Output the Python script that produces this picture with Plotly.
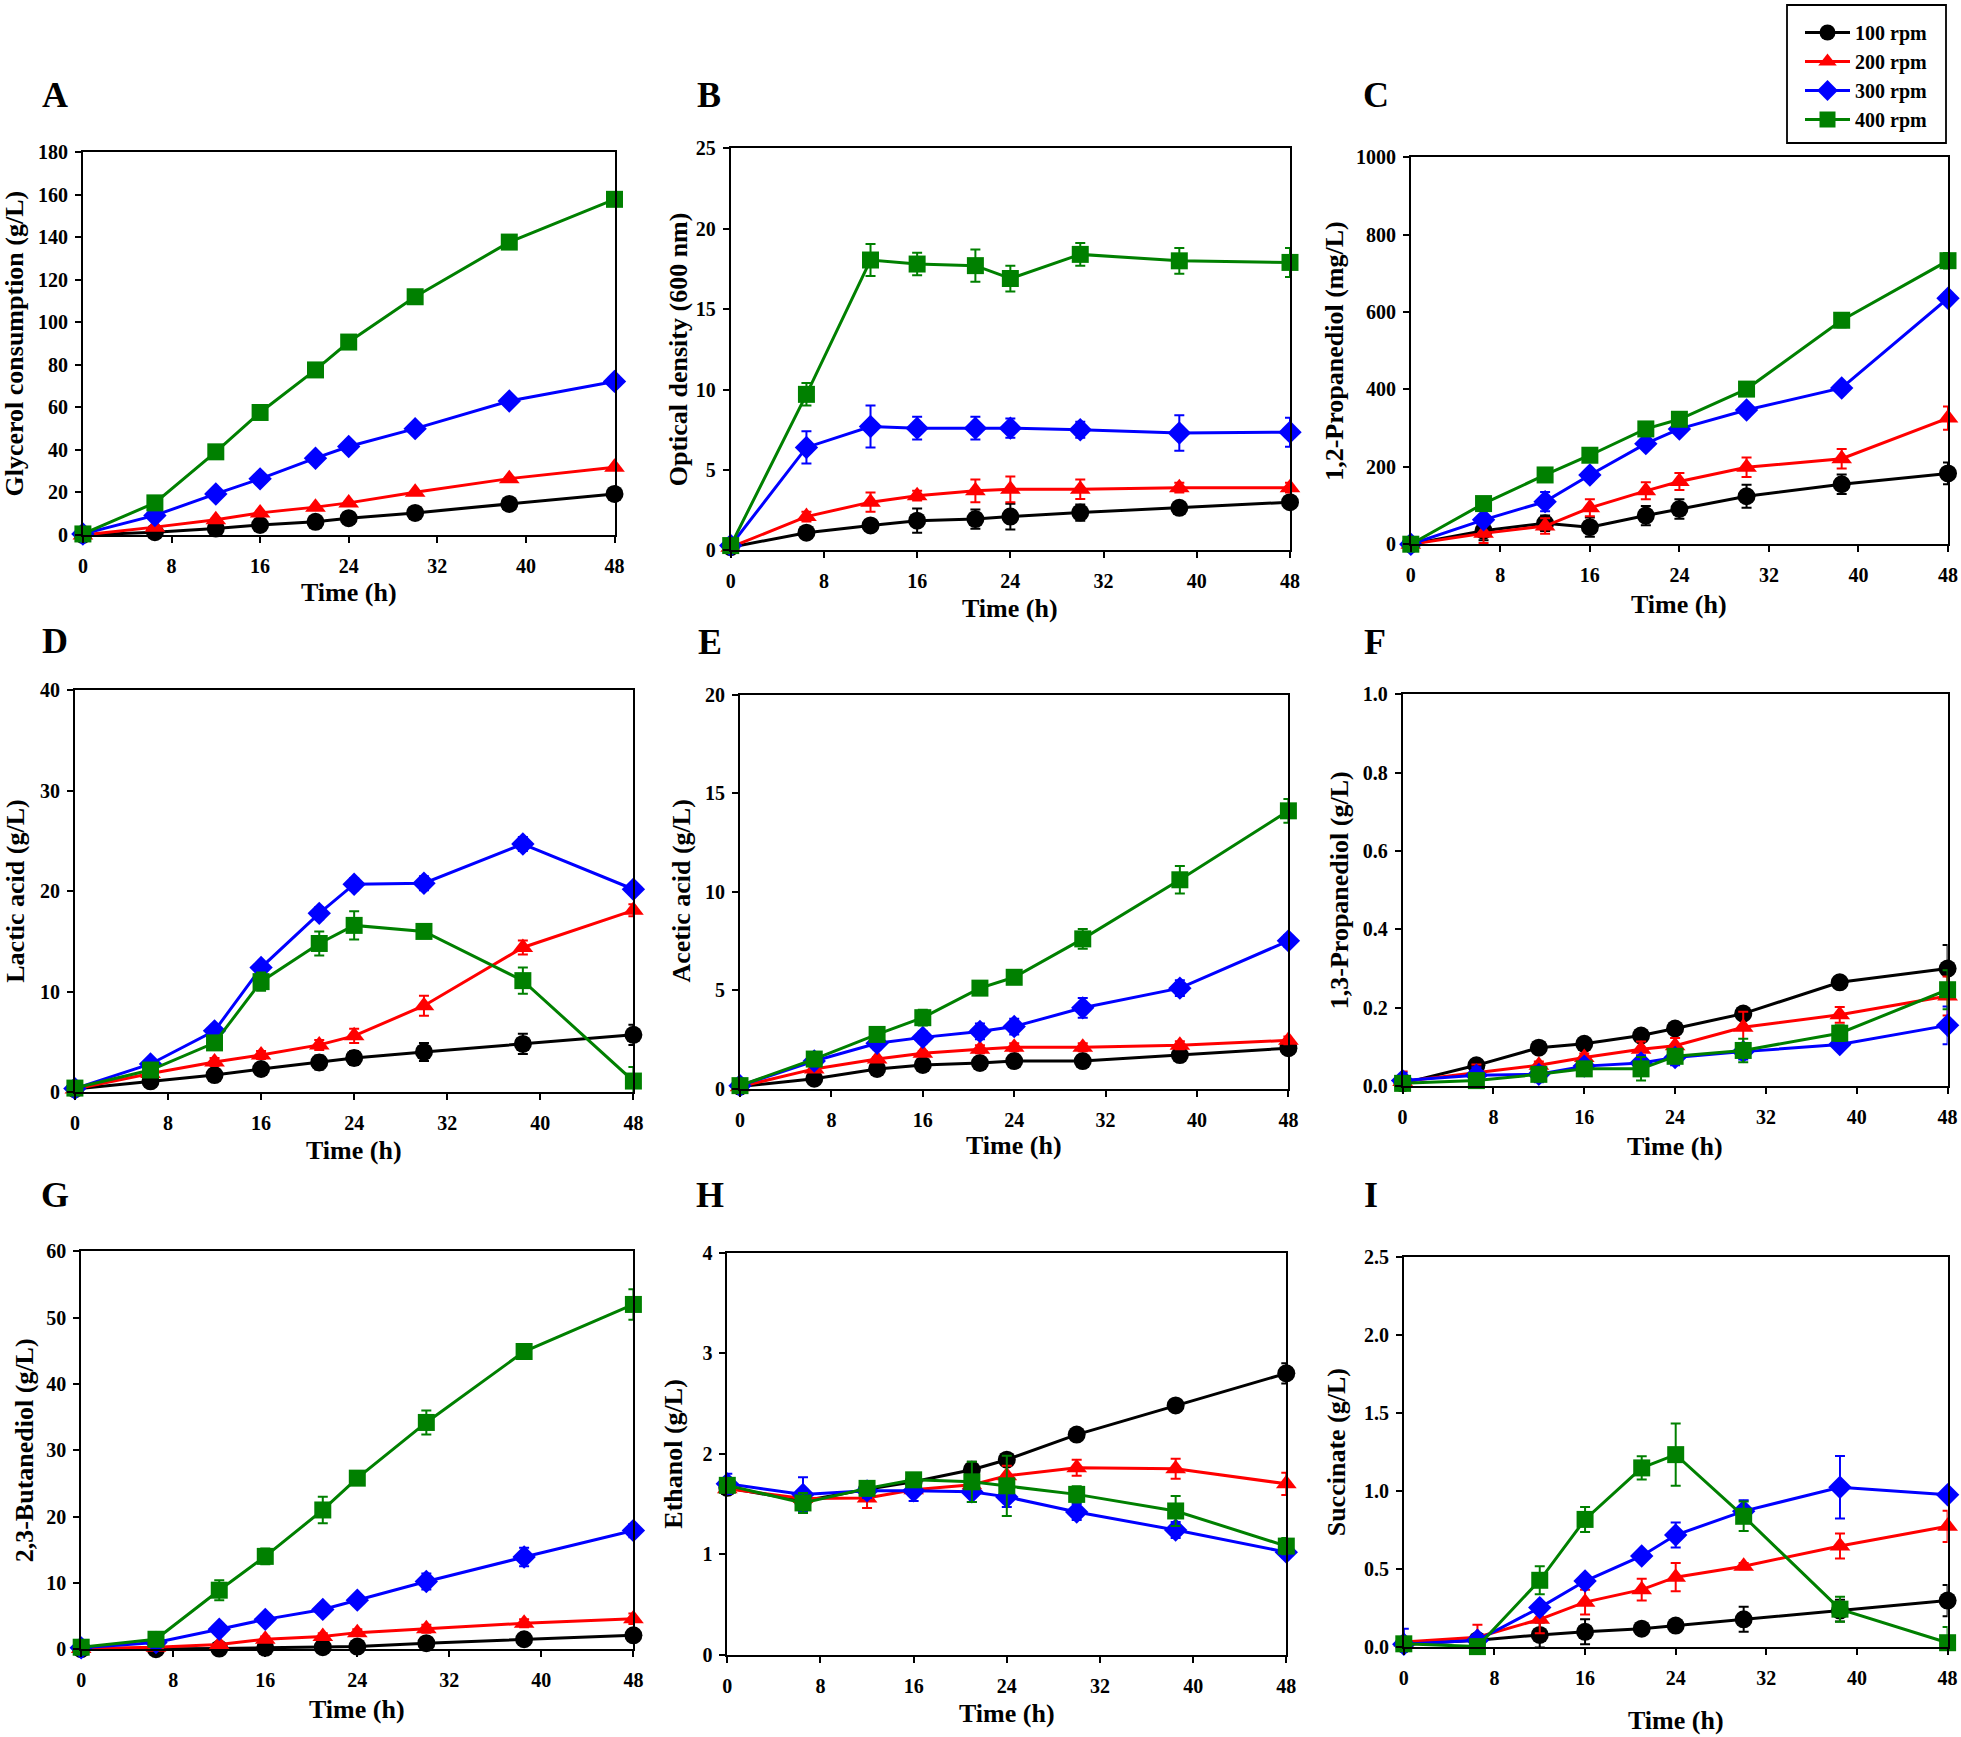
import plotly.graph_objects as go

# ---------------- data ----------------
time_h = [0, 6.5, 12, 16, 21, 24, 30, 38.5, 48]
series_names = ["100 rpm", "200 rpm", "300 rpm", "400 rpm"]

# A: Glycerol consumption (g/L)
a100 = [0, 1.3, 3.0, 4.7, 6.2, 7.9, 10.4, 14.6, 19.3]
a200 = [0, 3.7, 7.2, 10.4, 13.1, 15.1, 20.1, 26.5, 31.9]
a300 = [0.5, 9.2, 19.3, 26.4, 36.1, 41.6, 50.0, 63.0, 72.2]
a400 = [0.5, 15.1, 39.1, 57.6, 77.6, 90.7, 112.0, 137.7, 157.8]
a100_err = [0, 0.5, 0.5, 0.5, 0.5, 0.5, 0.5, 0.5, 0.5]
a200_err = [0, 0.5, 0.5, 0.5, 0.5, 0.5, 0.5, 0.5, 0.5]
a300_err = [0, 0.5, 0.5, 0.5, 0.5, 0.5, 0.5, 0.5, 0.5]
a400_err = [0, 0.5, 0.5, 0.5, 0.5, 0.5, 0.5, 0.5, 0.5]

# B: Optical density (600 nm)
b100 = [0.2, 1.1, 1.55, 1.85, 1.95, 2.1, 2.35, 2.65, 3.0]
b200 = [0.2, 2.1, 3.0, 3.4, 3.7, 3.8, 3.8, 3.9, 3.9]
b300 = [0.3, 6.4, 7.7, 7.6, 7.6, 7.6, 7.5, 7.3, 7.35]
b400 = [0.3, 9.7, 18.05, 17.8, 17.7, 16.9, 18.4, 18.0, 17.9]
b100_err = [0, 0.2, 0.3, 0.75, 0.6, 0.8, 0.5, 0.3, 0.3]
b200_err = [0, 0.3, 0.6, 0.3, 0.7, 0.8, 0.6, 0.3, 0.3]
b300_err = [0, 1.0, 1.3, 0.7, 0.7, 0.6, 0.5, 1.1, 0.9]
b400_err = [0, 0.7, 1.0, 0.7, 1.0, 0.8, 0.7, 0.8, 0.9]

# C: 1,2-Propanediol (mg/L)
c100 = [0, 35, 54, 44, 74, 91, 124, 155, 183]
c200 = [0, 28, 47, 94, 138, 162, 199, 221, 326]
c300 = [0, 63, 110, 179, 260, 298, 347, 404, 636]
c400 = [0, 105, 179, 230, 298, 323, 401, 579, 733]
c100_err = [0, 25, 20, 25, 25, 25, 30, 25, 28]
c200_err = [0, 25, 20, 22, 22, 22, 25, 25, 30]
c300_err = [0, 10, 25, 12, 10, 10, 10, 10, 15]
c400_err = [0, 15, 15, 15, 15, 15, 18, 18, 20]

# D: Lactic acid (g/L)
d100 = [0.3, 1.07, 1.7, 2.3, 2.95, 3.4, 4.0, 4.8, 5.7]
d200 = [0.3, 1.85, 3.0, 3.7, 4.7, 5.6, 8.6, 14.4, 18.1]
d300 = [0.35, 2.8, 6.1, 12.4, 17.8, 20.7, 20.8, 24.7, 20.2]
d400 = [0.4, 2.2, 4.9, 11.0, 14.8, 16.6, 16.0, 11.1, 1.1]
d100_err = [0, 0.3, 0.5, 0.5, 0.7, 0.7, 0.9, 1.0, 1.0]
d200_err = [0, 0.3, 0.4, 0.4, 0.5, 0.7, 1.0, 0.7, 0.6]
d300_err = [0, 0.3, 0.4, 0.5, 0.6, 0.6, 0.7, 0.7, 0.5]
d400_err = [0, 0.3, 0.4, 0.9, 1.2, 1.4, 0.5, 1.3, 1.4]

# E: Acetic acid (g/L)
e100 = [0.1, 0.5, 1.0, 1.2, 1.3, 1.4, 1.4, 1.7, 2.05]
e200 = [0.1, 1.0, 1.5, 1.8, 2.0, 2.1, 2.1, 2.2, 2.45]
e300 = [0.15, 1.4, 2.3, 2.6, 2.9, 3.15, 4.1, 5.1, 7.5]
e400 = [0.15, 1.5, 2.75, 3.6, 5.1, 5.65, 7.6, 10.6, 14.1]
e100_err = [0, 0.1, 0.1, 0.1, 0.1, 0.1, 0.1, 0.1, 0.1]
e200_err = [0, 0.1, 0.1, 0.1, 0.2, 0.2, 0.2, 0.2, 0.2]
e300_err = [0, 0.2, 0.3, 0.3, 0.4, 0.4, 0.5, 0.4, 0.3]
e400_err = [0, 0.2, 0.3, 0.4, 0.3, 0.3, 0.5, 0.7, 0.6]

# F: 1,3-Propanediol (g/L)
f100 = [0.007, 0.053, 0.098, 0.108, 0.129, 0.147, 0.185, 0.265, 0.30]
f200 = [0.012, 0.035, 0.053, 0.073, 0.094, 0.103, 0.15, 0.182, 0.23]
f300 = [0.014, 0.028, 0.03, 0.051, 0.059, 0.073, 0.088, 0.106, 0.155]
f400 = [0.007, 0.014, 0.03, 0.044, 0.044, 0.076, 0.091, 0.135, 0.246]
f100_err = [0.01, 0.01, 0.01, 0.01, 0.01, 0.01, 0.01, 0.01, 0.06]
f200_err = [0.025, 0.02, 0.01, 0.01, 0.02, 0.02, 0.04, 0.02, 0.05]
f300_err = [0.02, 0.02, 0.02, 0.01, 0.02, 0.02, 0.02, 0.01, 0.048]
f400_err = [0.01, 0.01, 0.01, 0.01, 0.03, 0.01, 0.03, 0.02, 0.05]

# G: 2,3-Butanediol (g/L)
g100 = [0, 0, 0.1, 0.2, 0.3, 0.4, 0.9, 1.5, 2.1]
g200 = [0.1, 0.3, 0.7, 1.5, 1.9, 2.5, 3.1, 3.9, 4.6]
g300 = [0.2, 1.0, 3.0, 4.5, 6.0, 7.4, 10.2, 13.9, 17.9]
g400 = [0.3, 1.5, 8.9, 14.0, 21.0, 25.8, 34.2, 44.9, 52.0]
g100_err = [0, 0.2, 0.2, 0.2, 0.2, 0.2, 0.3, 0.4, 0.5]
g200_err = [0, 0.2, 0.3, 0.4, 0.5, 0.5, 0.6, 0.6, 0.8]
g300_err = [0, 0.3, 0.5, 0.8, 0.8, 0.6, 1.2, 1.4, 1.0]
g400_err = [0, 0.3, 1.5, 1.2, 2.0, 0.8, 1.8, 0.8, 2.3]

# H: Ethanol (g/L)
h100 = [1.66, 1.53, 1.645, 1.72, 1.84, 1.94, 2.19, 2.48, 2.80]
h200 = [1.65, 1.555, 1.56, 1.64, 1.69, 1.78, 1.86, 1.85, 1.70]
h300 = [1.70, 1.595, 1.63, 1.63, 1.62, 1.57, 1.42, 1.24, 1.02]
h400 = [1.685, 1.51, 1.655, 1.74, 1.72, 1.68, 1.595, 1.43, 1.08]
h100_err = [0.03, 0.03, 0.03, 0.03, 0.08, 0.05, 0.03, 0.03, 0.1]
h200_err = [0.05, 0.05, 0.1, 0.05, 0.05, 0.1, 0.08, 0.1, 0.11]
h300_err = [0.1, 0.17, 0.07, 0.1, 0.1, 0.1, 0.08, 0.08, 0.05]
h400_err = [0.05, 0.1, 0.05, 0.05, 0.2, 0.3, 0.08, 0.15, 0.08]

# I: Succinate (g/L)
i100 = [0.02, 0.046, 0.08, 0.10, 0.12, 0.14, 0.18, 0.236, 0.30]
i200 = [0.035, 0.065, 0.18, 0.29, 0.37, 0.45, 0.52, 0.65, 0.776]
i300 = [0.02, 0.046, 0.255, 0.425, 0.586, 0.72, 0.873, 1.026, 0.978]
i400 = [0.023, 0.005, 0.43, 0.82, 1.15, 1.235, 0.84, 0.245, 0.03]
i100_err = [0.02, 0.02, 0.08, 0.08, 0.02, 0.02, 0.08, 0.07, 0.1]
i200_err = [0.02, 0.08, 0.09, 0.08, 0.07, 0.09, 0.02, 0.08, 0.1]
i300_err = [0.1, 0.02, 0.02, 0.02, 0.02, 0.08, 0.07, 0.2, 0.02]
i400_err = [0.02, 0.02, 0.09, 0.08, 0.075, 0.2, 0.095, 0.08, 0.1]

x_ticks = [0, 8, 16, 24, 32, 40, 48]

panels = [
    dict(letter="A", ylabel="Glycerol consumption (g/L)", ymax=180, dtick=20, fmt="",
         ys=[a100, a200, a300, a400], errs=[a100_err, a200_err, a300_err, a400_err]),
    dict(letter="B", ylabel="Optical density (600 nm)", ymax=25, dtick=5, fmt="",
         ys=[b100, b200, b300, b400], errs=[b100_err, b200_err, b300_err, b400_err]),
    dict(letter="C", ylabel="1,2-Propanediol (mg/L)", ymax=1000, dtick=200, fmt="",
         ys=[c100, c200, c300, c400], errs=[c100_err, c200_err, c300_err, c400_err]),
    dict(letter="D", ylabel="Lactic acid (g/L)", ymax=40, dtick=10, fmt="",
         ys=[d100, d200, d300, d400], errs=[d100_err, d200_err, d300_err, d400_err]),
    dict(letter="E", ylabel="Acetic acid (g/L)", ymax=20, dtick=5, fmt="",
         ys=[e100, e200, e300, e400], errs=[e100_err, e200_err, e300_err, e400_err]),
    dict(letter="F", ylabel="1,3-Propanediol (g/L)", ymax=1.0, dtick=0.2, fmt=".1f",
         ys=[f100, f200, f300, f400], errs=[f100_err, f200_err, f300_err, f400_err]),
    dict(letter="G", ylabel="2,3-Butanediol (g/L)", ymax=60, dtick=10, fmt="",
         ys=[g100, g200, g300, g400], errs=[g100_err, g200_err, g300_err, g400_err]),
    dict(letter="H", ylabel="Ethanol (g/L)", ymax=4, dtick=1, fmt="",
         ys=[h100, h200, h300, h400], errs=[h100_err, h200_err, h300_err, h400_err]),
    dict(letter="I", ylabel="Succinate (g/L)", ymax=2.5, dtick=0.5, fmt=".1f",
         ys=[i100, i200, i300, i400], errs=[i100_err, i200_err, i300_err, i400_err]),
]

# ---------------- layout (pixel geometry) ----------------
W, H = 1961, 1737
# plot-area boxes: left, right, top, bottom in px
boxes = [
    (82.9, 614.5, 152.1, 535.0), (730.7, 1290.0, 148.2, 550.4), (1410.8, 1948.0, 157.4, 544.2),
    (74.9, 633.4, 690.4, 1092.1), (740.0, 1288.4, 694.6, 1088.6), (1402.6, 1947.6, 694.3, 1086.1),
    (81.2, 633.4, 1251.4, 1649.2), (727.3, 1286.3, 1252.8, 1654.6), (1403.8, 1947.6, 1257.2, 1647.4),
]
letter_pos = [(55, 95), (709, 95), (1376, 95), (55, 641), (710, 642), (1375, 642),
              (55, 1195), (710, 1195), (1371, 1195)]
ytitle_x = [15, 678, 1335, 15.5, 682, 1339, 24, 674, 1336]
xtitle_off = [57, 58, 60, 58, 57, 60, 60, 59, 73]

colors = ["#000000", "#ff0000", "#0000ff", "#008000"]
symbols = ["circle", "triangle-up", "diamond", "square"]
msizes = [18, 18, 18, 17]

FONT = "Liberation Serif, Times New Roman, serif"

fig = go.Figure()
annotations = []
layout_axes = {}

for k, p in enumerate(panels):
    L, R, T, B = boxes[k]
    xn = "x" if k == 0 else f"x{k+1}"
    yn = "y" if k == 0 else f"y{k+1}"
    for s in range(4):
        fig.add_trace(go.Scatter(
            x=time_h, y=p["ys"][s], xaxis=xn, yaxis=yn,
            mode="lines+markers", name=series_names[s],
            legendgroup=series_names[s], showlegend=(k == 0),
            line=dict(color=colors[s], width=3),
            marker=dict(symbol=symbols[s], size=msizes[s], color=colors[s], line=dict(width=0)),
            error_y=dict(type="data", array=p["errs"][s], visible=True,
                         color=colors[s], thickness=2, width=5),
            cliponaxis=False,
        ))
    xkey = "xaxis" if k == 0 else f"xaxis{k+1}"
    ykey = "yaxis" if k == 0 else f"yaxis{k+1}"
    layout_axes[xkey] = dict(
        domain=[L / W, R / W], anchor=yn, range=[0, 48], automargin=False,
        tickmode="array", tickvals=x_ticks, ticks="outside", ticklen=6, tickwidth=1.8,
        tickcolor="black", showline=True, linecolor="black", linewidth=1.8, mirror=True,
        showgrid=False, zeroline=False,
        tickfont=dict(family=FONT, size=20, color="black", weight="bold"),
        ticklabelstandoff=6,
    )
    layout_axes[ykey] = dict(
        domain=[1 - B / H, 1 - T / H], anchor=xn, range=[0, p["ymax"]], automargin=False,
        tick0=0, dtick=p["dtick"], tickformat=p["fmt"], ticks="outside", ticklen=6,
        tickwidth=1.8, tickcolor="black", showline=True, linecolor="black", linewidth=1.8,
        mirror=True, showgrid=False, zeroline=False,
        tickfont=dict(family=FONT, size=20, color="black", weight="bold"),
        ticklabelstandoff=3,
    )
    lx, ly = letter_pos[k]
    annotations.append(dict(text=p["letter"], x=lx / W, y=1 - ly / H, xref="paper", yref="paper",
                            xanchor="center", yanchor="middle", showarrow=False,
                            font=dict(family=FONT, size=36, color="black", weight="bold")))
    annotations.append(dict(text="Time (h)", x=(L + R) / 2 / W, y=1 - (B + xtitle_off[k]) / H,
                            xref="paper", yref="paper", xanchor="center", yanchor="middle",
                            showarrow=False,
                            font=dict(family=FONT, size=26, color="black", weight="bold")))
    annotations.append(dict(text=p["ylabel"], x=ytitle_x[k] / W, y=1 - (T + B) / 2 / H,
                            xref="paper", yref="paper", xanchor="center", yanchor="middle",
                            textangle=-90, showarrow=False,
                            font=dict(family=FONT, size=26, color="black", weight="bold")))

# legend frame
shapes = [dict(type="rect", xref="paper", yref="paper",
               x0=1787 / W, x1=1946 / W, y0=1 - 143 / H, y1=1 - 5 / H,
               line=dict(color="black", width=1.8), fillcolor="rgba(0,0,0,0)")]

fig.update_layout(
    width=W, height=H, margin=dict(l=0, r=0, t=0, b=0, autoexpand=False),
    paper_bgcolor="white", plot_bgcolor="white",
    annotations=annotations, shapes=shapes,
    showlegend=True,
    legend=dict(x=1800 / W, y=1 - 13 / H, xanchor="left", yanchor="top",
                bgcolor="rgba(0,0,0,0)", borderwidth=0,
                font=dict(family=FONT, size=20, color="black", weight="bold"),
                tracegroupgap=0, itemsizing="trace", itemwidth=45),
    **layout_axes,
)

fig.write_html("out.html", config={"displayModeBar": False},
               post_script="document.body.style.margin='0';document.body.style.overflow='hidden';")
